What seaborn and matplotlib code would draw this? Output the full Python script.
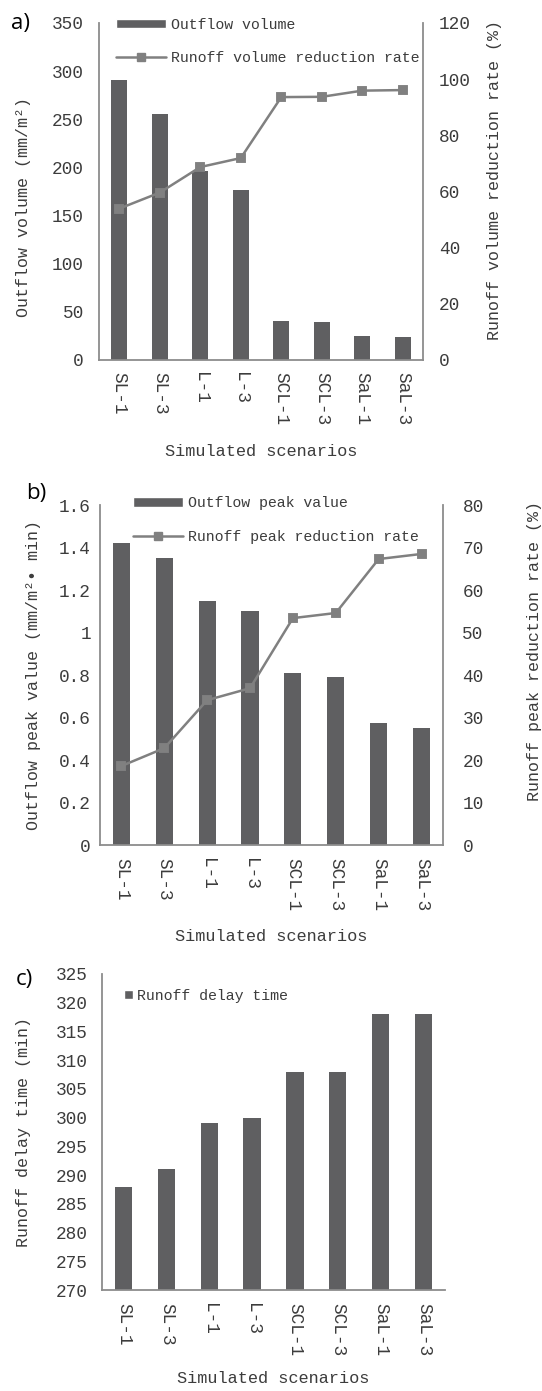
import matplotlib
matplotlib.use('Agg')
import matplotlib.pyplot as plt
from matplotlib.patches import Patch
from matplotlib.lines import Line2D
from matplotlib.ticker import MultipleLocator, FuncFormatter
import seaborn as sns

# Data
scenarios = ['SL-1', 'SL-3', 'L-1', 'L-3', 'SCL-1', 'SCL-3', 'SaL-1', 'SaL-3']
outflow_volume = [291, 255, 196, 177, 40, 39, 25, 24]
volume_reduction = [53.9, 59.6, 68.7, 71.9, 93.6, 93.7, 95.9, 96.1]
outflow_peak = [1.42, 1.35, 1.15, 1.10, 0.81, 0.79, 0.575, 0.553]
peak_reduction = [18.6, 22.8, 34.1, 36.9, 53.4, 54.6, 67.3, 68.5]
delay_time = [288, 291, 299, 300, 308, 308, 318, 318]

BAR = '#5f5f61'
LINE = '#808080'
SPINE = '#8c8c8c'
TXT = '#3c3c3c'

sns.set_theme(style='white')
plt.rcParams['font.family'] = ['Liberation Mono', 'DejaVu Sans Mono']
plt.rcParams['text.color'] = TXT
plt.rcParams['axes.labelcolor'] = TXT
plt.rcParams['xtick.color'] = TXT
plt.rcParams['ytick.color'] = TXT

fig = plt.figure(figsize=(5.42, 13.91), dpi=100)
fmt = FuncFormatter(lambda v, p: f'{v:g}')


def style_axis(ax, left_pad):
    ax.set_xlim(-0.5, len(scenarios) - 0.5)
    ax.tick_params(axis='x', length=0, labelrotation=-90, labelsize=12.8, pad=9)
    ax.tick_params(axis='y', length=0, labelsize=12.8, pad=left_pad)
    for s in ['top', 'right']:
        ax.spines[s].set_visible(False)
    for s in ['left', 'bottom']:
        ax.spines[s].set_color(SPINE)
        ax.spines[s].set_linewidth(1.3)
    ax.set_xlabel('Simulated scenarios', fontsize=12.2, labelpad=13)


def dual_panel(rect, bars, rate, bar_lim, bar_step, rate_lim, rate_step,
               ylab, rylab, bar_name, line_name, lab_xy, rlab_xy, leg_xy,
               lpad, rpad):
    ax = fig.add_axes(rect)
    sns.barplot(x=scenarios, y=bars, ax=ax, color=BAR, width=0.4,
                saturation=1, linewidth=0)
    ax2 = ax.twinx()
    sns.pointplot(x=scenarios, y=rate, ax=ax2, color=LINE, markers='s',
                  markersize=6, linewidth=1.8, errorbar=None)
    style_axis(ax, lpad)
    ax.set_ylim(*bar_lim)
    ax.yaxis.set_major_locator(MultipleLocator(bar_step))
    ax.yaxis.set_major_formatter(fmt)
    ax.set_ylabel(ylab, fontsize=12)
    ax.yaxis.set_label_coords(*lab_xy)

    ax2.set_ylim(*rate_lim)
    ax2.yaxis.set_major_locator(MultipleLocator(rate_step))
    ax2.yaxis.set_major_formatter(fmt)
    ax2.tick_params(axis='y', length=0, labelsize=12.8, pad=rpad)
    for s in ['top', 'left', 'bottom']:
        ax2.spines[s].set_visible(False)
    ax2.spines['right'].set_color(SPINE)
    ax2.spines['right'].set_linewidth(1.3)
    ax2.set_ylabel(rylab, fontsize=12, rotation=90)
    ax2.yaxis.set_label_coords(*rlab_xy)
    ax2.set_xlim(-0.5, len(scenarios) - 0.5)

    handles = [Patch(facecolor=BAR, label=bar_name),
               Line2D([], [], color=LINE, marker='s', ms=6, lw=1.8, label=line_name)]
    ax2.legend(handles=handles, loc='upper left', bbox_to_anchor=leg_xy,
               frameon=False, borderaxespad=0, borderpad=0, handlelength=3.4,
               handleheight=0.6, handletextpad=0.3, labelspacing=1.3,
               fontsize=10.7)
    return ax, ax2


# panel a
dual_panel([0.1827, 0.7412, 0.5978, 0.2423], outflow_volume, volume_reduction,
           (0, 350), 50, (0, 120), 20,
           'Outflow volume (mm/m²)', 'Runoff volume reduction rate (%)',
           'Outflow volume', 'Runoff volume reduction rate',
           (-0.21, 0.455), (1.198, 0.534), (0.052, 1.015), 11, 11.5)

# panel b
dual_panel([0.1845, 0.3925, 0.6328, 0.2444], outflow_peak, peak_reduction,
           (0, 1.6), 0.2, (0, 80), 10,
           'Outflow peak value (mm/m²• min)', 'Runoff peak reduction rate (%)',
           'Outflow peak value', 'Runoff peak reduction rate',
           (-0.172, 0.5), (1.245, 0.57), (0.096, 1.026), 6.5, 14)

# panel c
axc = fig.add_axes([0.1882, 0.0726, 0.6328, 0.2272])
sns.barplot(x=scenarios, y=delay_time, ax=axc, color=BAR, width=0.4,
            saturation=1, linewidth=0)
style_axis(axc, 10)
axc.set_ylim(270, 325)
axc.yaxis.set_major_locator(MultipleLocator(5))
axc.set_ylabel('Runoff delay time (min)', fontsize=12)
axc.yaxis.set_label_coords(-0.207, 0.5)
axc.xaxis.labelpad = 11
axc.legend(handles=[Patch(facecolor=BAR, label='Runoff delay time')],
           loc='upper left', bbox_to_anchor=(0.064, 0.953), frameon=False,
           borderaxespad=0, borderpad=0, handlelength=0.6, handleheight=0.6,
           handletextpad=0.25, fontsize=10.7)

# panel letters
for lab, x, y in [('a)', 20, 23), ('b)', 36, 493), ('c)', 24, 980)]:
    fig.text(x / 542, 1 - y / 1391, lab, fontsize=16, ha='center', va='center',
             family=['Open Sans', 'DejaVu Sans'], color='black')

fig.savefig('out.png', dpi=100)
